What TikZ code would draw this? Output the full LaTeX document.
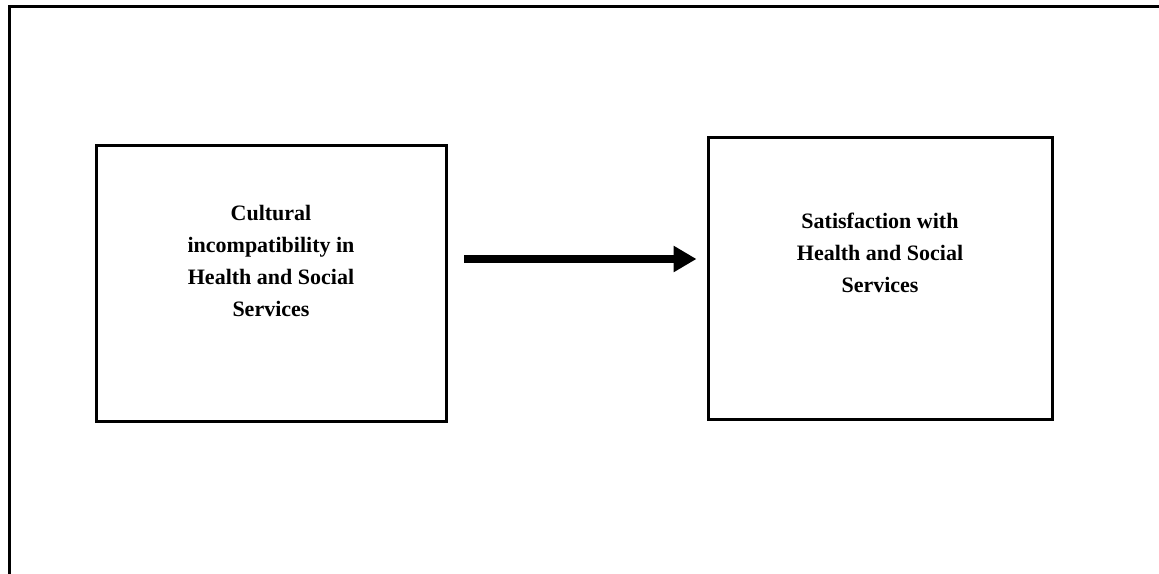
\documentclass[tikz,border=0pt]{standalone}
\usepackage{fontspec}
\setmainfont{Liberation Serif}
\usetikzlibrary{arrows.meta}
\begin{document}
\begin{tikzpicture}[x=1pt,y=-1pt,
  box/.style={draw=black,line width=3pt,inner sep=0pt},
  lbl/.style={align=center,font=\fontsize{22}{32}\selectfont\bfseries,inner sep=0pt},
  conn/.style={line width=8pt,-{Triangle[length=23pt,width=25pt]}}]
\useasboundingbox (0,0) rectangle (1159,573);
\draw[line width=3pt] (9,578) -- (9,6) -- (1165,6);
\node[box,minimum width=350pt,minimum height=276pt] (a) at (271.5,283.5) {};
\node[box,minimum width=344pt,minimum height=282pt] (b) at (880,278.5) {};
\node[lbl] (ta) at (271,261) {Cultural\\incompatibility in\\Health and Social\\Services};
\node[lbl] (tb) at (880,253) {Satisfaction with\\Health and Social\\Services};
\coordinate (s) at ([xshift=16pt,yshift=24.5pt]a.east);
\coordinate (t) at ([xshift=-10pt,yshift=19.5pt]b.west);
\draw[conn] (s) -- (t);
\end{tikzpicture}
\end{document}
